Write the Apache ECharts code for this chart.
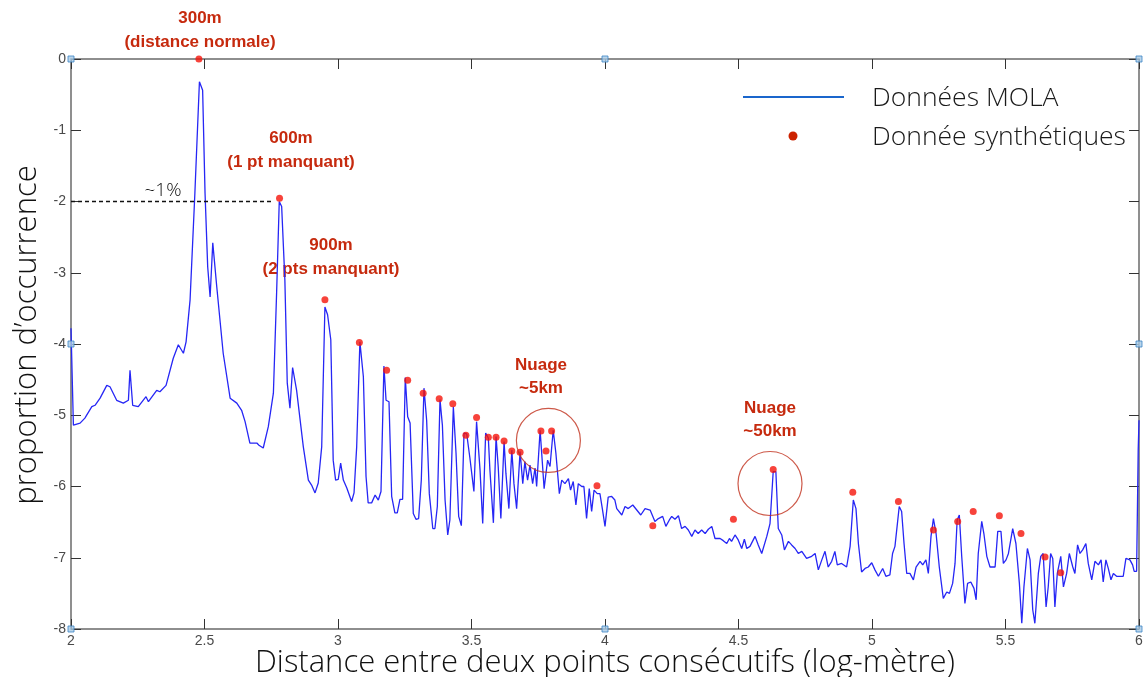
<!DOCTYPE html>
<html>
<head>
<meta charset="utf-8">
<script src="https://cdn.jsdelivr.net/npm/echarts@6/dist/echarts.min.js"></script>
<style>
html,body{margin:0;padding:0;background:#fff;}
#chart{width:1146px;height:677px;}
</style>
</head>
<body>
<div id="chart"></div>
<script>
// ---- Data ----
const molaX = [2.000,2.009,2.034,2.052,2.078,2.090,2.109,2.134,2.146,2.171,2.196,2.215,2.221,2.231,2.252,2.281,2.290,2.321,2.333,2.356,
2.383,2.402,2.421,2.431,2.446,2.464,2.481,2.493,2.502,2.512,2.521,2.531,2.546,2.570,2.596,2.621,2.639,2.652,2.670,2.696,
2.704,2.720,2.739,2.758,2.770,2.780,2.789,2.801,2.810,2.820,2.830,2.845,2.870,2.889,2.901,2.914,2.926,2.939,2.951,2.961,
2.973,2.982,2.991,3.001,3.010,3.020,3.033,3.051,3.060,3.070,3.082,3.095,3.105,3.113,3.126,3.139,3.151,3.161,3.172,3.180,
3.191,3.201,3.213,3.222,3.232,3.242,3.252,3.261,3.270,3.282,3.292,3.302,3.312,3.322,3.332,3.342,3.355,3.363,3.372,3.382,
3.391,3.401,3.411,3.419,3.432,3.442,3.452,3.462,3.472,3.482,3.494,3.509,3.519,3.532,3.542,3.553,3.563,3.569,3.582,3.592,
3.600,3.610,3.622,3.629,3.640,3.651,3.659,3.669,3.682,3.692,3.700,3.710,3.719,3.729,3.738,3.744,3.757,3.763,3.772,3.785,
3.794,3.806,3.816,3.829,3.838,3.850,3.863,3.871,3.881,3.891,3.900,3.913,3.921,3.931,3.941,3.950,3.959,3.971,3.981,3.990,
4.000,4.012,4.025,4.037,4.044,4.063,4.075,4.087,4.104,4.119,4.134,4.150,4.169,4.187,4.200,4.216,4.228,4.241,4.250,4.262,
4.275,4.287,4.300,4.312,4.325,4.337,4.349,4.362,4.375,4.387,4.400,4.412,4.431,4.443,4.456,4.466,4.474,4.487,4.499,4.512,
4.522,4.531,4.543,4.562,4.574,4.587,4.606,4.618,4.630,4.640,4.649,4.662,4.672,4.687,4.699,4.712,4.724,4.737,4.755,4.774,
4.787,4.799,4.812,4.824,4.836,4.849,4.861,4.870,4.886,4.905,4.918,4.930,4.940,4.949,4.961,4.974,4.986,4.999,5.011,5.024,
5.040,5.052,5.067,5.077,5.086,5.102,5.111,5.120,5.130,5.142,5.155,5.165,5.180,5.190,5.202,5.211,5.221,5.230,5.240,5.252,
5.267,5.280,5.290,5.302,5.311,5.319,5.327,5.336,5.348,5.358,5.370,5.382,5.390,5.398,5.411,5.419,5.430,5.442,5.461,5.471,
5.483,5.492,5.502,5.511,5.527,5.539,5.552,5.561,5.569,5.582,5.592,5.602,5.610,5.623,5.632,5.641,5.652,5.660,5.669,5.677,
5.685,5.694,5.707,5.717,5.729,5.739,5.752,5.760,5.770,5.779,5.789,5.801,5.810,5.823,5.835,5.848,5.858,5.866,5.876,5.885,
5.895,5.904,5.916,5.941,5.951,5.966,5.976,5.982,5.991,5.997,6.000];
const molaY = [-3.78,-5.14,-5.11,-5.04,-4.88,-4.86,-4.76,-4.58,-4.60,-4.79,-4.83,-4.79,-4.37,-4.86,-4.88,-4.74,-4.81,-4.65,-4.67,-4.58,
-4.20,-4.01,-4.13,-3.97,-3.38,-1.88,-0.32,-0.44,-1.88,-2.92,-3.34,-2.58,-3.20,-4.13,-4.76,-4.83,-4.93,-5.09,-5.39,-5.39,
-5.42,-5.46,-5.16,-4.69,-3.29,-2.00,-2.07,-3.10,-4.55,-4.90,-4.33,-4.65,-5.44,-5.91,-5.98,-6.09,-5.95,-5.44,-3.48,-3.59,
-3.94,-5.63,-5.91,-5.90,-5.67,-5.91,-6.02,-6.21,-6.09,-5.44,-3.97,-4.46,-5.86,-6.23,-6.23,-6.12,-6.19,-6.07,-4.31,-4.79,
-4.81,-6.14,-6.37,-6.37,-6.18,-6.18,-4.47,-5.02,-5.11,-6.38,-6.46,-6.45,-5.91,-4.62,-5.07,-6.10,-6.59,-6.59,-6.28,-4.78,
-5.14,-6.19,-6.68,-6.47,-4.88,-5.53,-6.42,-6.55,-5.25,-5.26,-5.60,-6.07,-5.09,-5.77,-6.52,-5.25,-5.32,-5.77,-6.51,-5.30,
-5.72,-6.45,-5.37,-5.82,-6.31,-5.49,-5.96,-6.31,-5.51,-5.96,-5.65,-5.91,-5.70,-5.96,-5.74,-6.00,-5.21,-5.23,-6.03,-5.63,
-5.72,-5.21,-5.53,-6.10,-5.91,-5.96,-5.89,-6.05,-5.93,-6.26,-5.96,-6.00,-6.00,-6.45,-6.03,-6.35,-6.05,-6.10,-6.10,-6.31,
-6.56,-6.15,-6.14,-6.19,-6.31,-6.40,-6.28,-6.31,-6.26,-6.33,-6.40,-6.31,-6.33,-6.49,-6.45,-6.42,-6.56,-6.47,-6.42,-6.46,
-6.41,-6.59,-6.56,-6.61,-6.70,-6.61,-6.66,-6.61,-6.66,-6.60,-6.56,-6.73,-6.73,-6.76,-6.80,-6.73,-6.77,-6.68,-6.75,-6.87,
-6.74,-6.87,-6.84,-6.70,-6.82,-6.94,-6.70,-6.52,-5.79,-5.79,-6.59,-6.68,-6.89,-6.77,-6.82,-6.87,-6.94,-6.91,-7.01,-6.98,
-6.94,-7.17,-7.03,-6.91,-7.13,-7.05,-6.91,-7.10,-7.08,-7.13,-6.84,-6.19,-6.31,-6.80,-7.20,-7.15,-7.13,-7.07,-7.17,-7.26,
-7.15,-7.26,-7.24,-6.94,-6.84,-6.28,-6.35,-6.80,-7.22,-7.22,-7.31,-7.13,-7.05,-7.10,-7.03,-7.22,-6.70,-6.45,-6.66,-7.13,
-7.57,-7.48,-7.50,-7.36,-7.08,-6.47,-6.40,-6.98,-7.64,-7.36,-7.34,-7.43,-7.59,-6.94,-6.49,-6.66,-6.98,-7.13,-7.13,-6.63,
-6.63,-7.08,-7.03,-6.94,-6.59,-6.80,-7.36,-7.92,-7.41,-6.87,-7.03,-7.73,-7.92,-7.22,-6.98,-6.94,-7.69,-7.41,-6.94,-7.01,
-7.69,-7.22,-6.98,-7.41,-7.22,-6.94,-7.13,-7.22,-6.82,-6.94,-6.89,-6.80,-7.08,-7.31,-7.05,-7.10,-7.03,-7.34,-7.03,-7.15,
-7.31,-7.22,-7.26,-7.26,-7.01,-7.03,-7.10,-7.19,-7.19,-5.49,-5.07];

const synthX = [2.479,2.781,2.951,3.080,3.182,3.261,3.319,3.379,3.430,3.479,3.519,3.563,3.592,3.622,3.651,3.682,
3.760,3.779,3.800,3.970,4.179,4.481,4.630,4.928,5.099,5.230,5.321,5.379,5.477,5.558,5.648,5.707];
const synthY = [0,-1.955,-3.38,-3.98,-4.37,-4.51,-4.69,-4.77,-4.84,-5.28,-5.03,-5.31,-5.31,-5.36,-5.50,-5.52,
-5.22,-5.50,-5.22,-5.99,-6.55,-6.46,-5.76,-6.08,-6.21,-6.61,-6.49,-6.35,-6.41,-6.66,-6.99,-7.21];

// highlighted clusters (circle centres)
const cloudX = [3.788, 4.618];
const cloudY = [-5.354, -5.958];

// reference level "~1%"
const refLevel = -2;
const refEndX = 2.749;

// axis handles (MATLAB selection squares)
const handleX = [2, 4, 6, 2, 6, 2, 4, 6];
const handleY = [0, 0, 0, -4, -4, -8, -8, -8];

const legendNames = ['Données MOLA', 'Donnée synthétiques'];
const xTitle = 'Distance entre deux points consécutifs (log-mètre)';
const yTitle = 'proportion d\u2019occurrence';

// ---- Chart ----
const zip = (a, b) => a.map((v, i) => [v, b[i]]);
const chart = echarts.init(document.getElementById('chart'), null, {renderer: 'canvas'});

const axisCol = '#6a6a6a';
const labelCol = '#4a4a4a';
const red = '#c62a0e';
const light = {fontFamily: '"Open Sans", Roboto, sans-serif', fontWeight: 300};
const bold = {fontFamily: '"Liberation Sans", Arial, sans-serif', fontWeight: 'bold'};

const option = {
  animation: false,
  backgroundColor: '#fff',
  grid: {left: 71, right: 7, top: 59, bottom: 48, containLabel: false, outerBoundsMode: 'none'},
  xAxis: [{
    type: 'value', min: 2, max: 6, interval: 0.5, position: 'bottom',
    axisLine: {show: true, onZero: false, lineStyle: {color: axisCol, width: 1.5}},
    axisTick: {show: true, inside: true, length: 10, lineStyle: {color: '#333', width: 1}},
    axisLabel: {color: labelCol, fontSize: 14, margin: 5, fontFamily: '"Liberation Sans", sans-serif'},
    splitLine: {show: false},
    name: xTitle, nameLocation: 'middle', nameGap: 19, nameMoveOverlap: false,
    nameTextStyle: Object.assign({color: '#111', fontSize: 31}, light)
  }, {
    type: 'value', min: 2, max: 6, interval: 0.5, position: 'top',
    axisLine: {show: true, onZero: false, lineStyle: {color: axisCol, width: 1.5}},
    axisTick: {show: true, inside: true, length: 10, lineStyle: {color: '#333', width: 1}},
    axisLabel: {show: false}, splitLine: {show: false}
  }],
  yAxis: [{
    type: 'value', min: -8, max: 0, interval: 1, position: 'left',
    axisLine: {show: true, onZero: false, lineStyle: {color: axisCol, width: 1.5}},
    axisTick: {show: true, inside: true, length: 10, lineStyle: {color: '#333', width: 1}},
    axisLabel: {color: labelCol, fontSize: 14, margin: 5, fontFamily: '"Liberation Sans", sans-serif'},
    splitLine: {show: false},
    name: yTitle, nameLocation: 'middle', nameGap: 28, nameRotate: 90, nameMoveOverlap: false,
    nameTextStyle: Object.assign({color: '#111', fontSize: 31, padding: [0, 0, 0, 18]}, light)
  }, {
    type: 'value', min: -8, max: 0, interval: 1, position: 'right',
    axisLine: {show: true, onZero: false, lineStyle: {color: axisCol, width: 1.5}},
    axisTick: {show: true, inside: true, length: 10, lineStyle: {color: '#333', width: 1}},
    axisLabel: {show: false}, splitLine: {show: false}
  }],
  series: [{
    name: legendNames[0], type: 'line', data: zip(molaX, molaY),
    showSymbol: false, symbol: 'none', smooth: false, clip: true,
    lineStyle: {color: '#2626f5', width: 1.3},
    z: 3,
    markLine: {
      silent: true, symbol: 'none', label: {show: false},
      lineStyle: {color: '#111', type: [4, 3], width: 1.3},
      data: [[{coord: [2, refLevel]}, {coord: [refEndX, refLevel]}]]
    }
  }, {
    name: legendNames[1], type: 'scatter', data: zip(synthX, synthY),
    symbol: 'circle', symbolSize: 7, clip: false,
    itemStyle: {color: '#f5140a'}, z: 4
  }, {
    name: 'clusters', type: 'scatter', data: zip(cloudX, cloudY),
    symbol: 'circle', symbolSize: 64, silent: true,
    itemStyle: {color: 'rgba(0,0,0,0)', borderColor: '#c0301c', borderWidth: 1.2}, z: 5
  }, {
    name: 'handles', type: 'scatter', data: zip(handleX, handleY),
    symbol: 'rect', symbolSize: 6, silent: true, clip: false,
    itemStyle: {color: '#a9cbe6', borderColor: '#3d86c6', borderWidth: 1}, z: 6
  }],
  graphic: [
    {type: 'text', x: 200, y: 30, style: Object.assign({text: '300m\n(distance normale)', fill: red, fontSize: 17, lineHeight: 24, align: 'center', verticalAlign: 'middle'}, bold)},
    {type: 'text', x: 291, y: 150, style: Object.assign({text: '600m\n(1 pt manquant)', fill: red, fontSize: 17, lineHeight: 24, align: 'center', verticalAlign: 'middle'}, bold)},
    {type: 'text', x: 331, y: 257, style: Object.assign({text: '900m\n(2 pts manquant)', fill: red, fontSize: 17, lineHeight: 24, align: 'center', verticalAlign: 'middle'}, bold)},
    {type: 'text', x: 541, y: 377, style: Object.assign({text: 'Nuage\n~5km', fill: red, fontSize: 17, lineHeight: 23, align: 'center', verticalAlign: 'middle'}, bold)},
    {type: 'text', x: 770, y: 420, style: Object.assign({text: 'Nuage\n~50km', fill: red, fontSize: 17, lineHeight: 23, align: 'center', verticalAlign: 'middle'}, bold)},
    {type: 'text', x: 163, y: 191, style: Object.assign({text: '~1%', fill: '#111', fontSize: 19, align: 'center', verticalAlign: 'middle'}, light)},
    // legend
    {type: 'line', shape: {x1: 743, y1: 97, x2: 844, y2: 97}, style: {stroke: '#1a66cc', lineWidth: 2}},
    {type: 'circle', shape: {cx: 793, cy: 136, r: 4.5}, style: {fill: '#cc2200'}},
    {type: 'text', x: 872, y: 98, style: Object.assign({text: legendNames[0], fill: '#1a1a1a', fontSize: 26.5, verticalAlign: 'middle'}, light)},
    {type: 'text', x: 872, y: 137, style: Object.assign({text: legendNames[1], fill: '#1a1a1a', fontSize: 26.5, verticalAlign: 'middle'}, light)}
  ]
};
chart.setOption(option);
</script>
</body>
</html>
